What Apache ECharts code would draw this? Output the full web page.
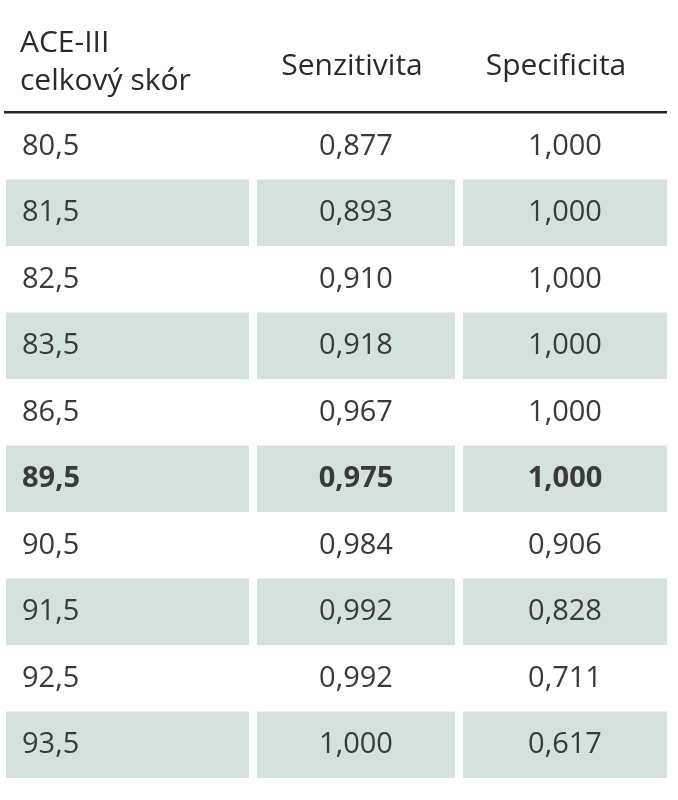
<!DOCTYPE html>
<html><head><meta charset="utf-8">
<script src="https://cdn.jsdelivr.net/npm/echarts@6/dist/echarts.min.js"></script>
<style>html,body{margin:0;background:#fff}#c{width:678px;height:800px}</style>
</head><body><div id="c"></div>
<script>
const headers = ['ACE-III\ncelkový skór', 'Senzitivita', 'Specificita'];
const scores = ['80,5','81,5','82,5','83,5','86,5','89,5','90,5','91,5','92,5','93,5'];
const sensitivity = ['0,877','0,893','0,910','0,918','0,967','0,975','0,984','0,992','0,992','1,000'];
const specificity = ['1,000','1,000','1,000','1,000','1,000','1,000','0,906','0,828','0,711','0,617'];
const boldRow = 5;
const colBounds = [[6,249],[257,455],[463,667]];
const font = '"Open Sans", "Noto Sans", sans-serif';
const txtColor = '#3a3a3a';
const chart = echarts.init(document.getElementById('c'));
const data = scores.map((s,i)=>[i, s, sensitivity[i], specificity[i]]);
chart.setOption({
  animation:false,
  grid:{left:0,right:0,top:113,bottom:22},
  xAxis:{type:'value',min:0,max:678,show:false},
  yAxis:{type:'category',data:scores,inverse:true,show:false},
  graphic:[
    {type:'text',left:20,top:24,style:{text:headers[0],font:'30px '+font,fill:'#2a2a2a',lineHeight:38}},
    {type:'text',x:352,y:66,style:{text:headers[1],font:'30px '+font,fill:'#2a2a2a',align:'center',verticalAlign:'middle'}},
    {type:'text',x:556,y:66,style:{text:headers[2],font:'30px '+font,fill:'#2a2a2a',align:'center',verticalAlign:'middle'}},
    {type:'rect',shape:{x:4,y:111,width:663,height:2.5},style:{fill:'#222'}}
  ],
  series:[{
    type:'custom',
    data:data,
    encode:{y:0},
    renderItem:function(params,api){
      const i=api.value(0);
      const c=api.coord([0,i]);
      const h=api.size([0,1])[1];
      const children=[];
      const shaded=i%2===1;
      const vals=[scores[i],sensitivity[i],specificity[i]];
      const fw=i===boldRow?'bold ':'';
      colBounds.forEach((b,k)=>{
        if(shaded) children.push({type:'rect',shape:{x:b[0],y:c[1]-h/2,width:b[1]-b[0],height:h},style:{fill:'#d3e2df'}});
        const x=k===0?22:(b[0]+b[1])/2;
        children.push({type:'text',x:x,y:c[1],style:{text:vals[k],font:fw+'29px '+font,fill:txtColor,align:k===0?'left':'center',verticalAlign:'middle'}});
      });
      return {type:'group',children};
    }
  }]
});
</script></body></html>
